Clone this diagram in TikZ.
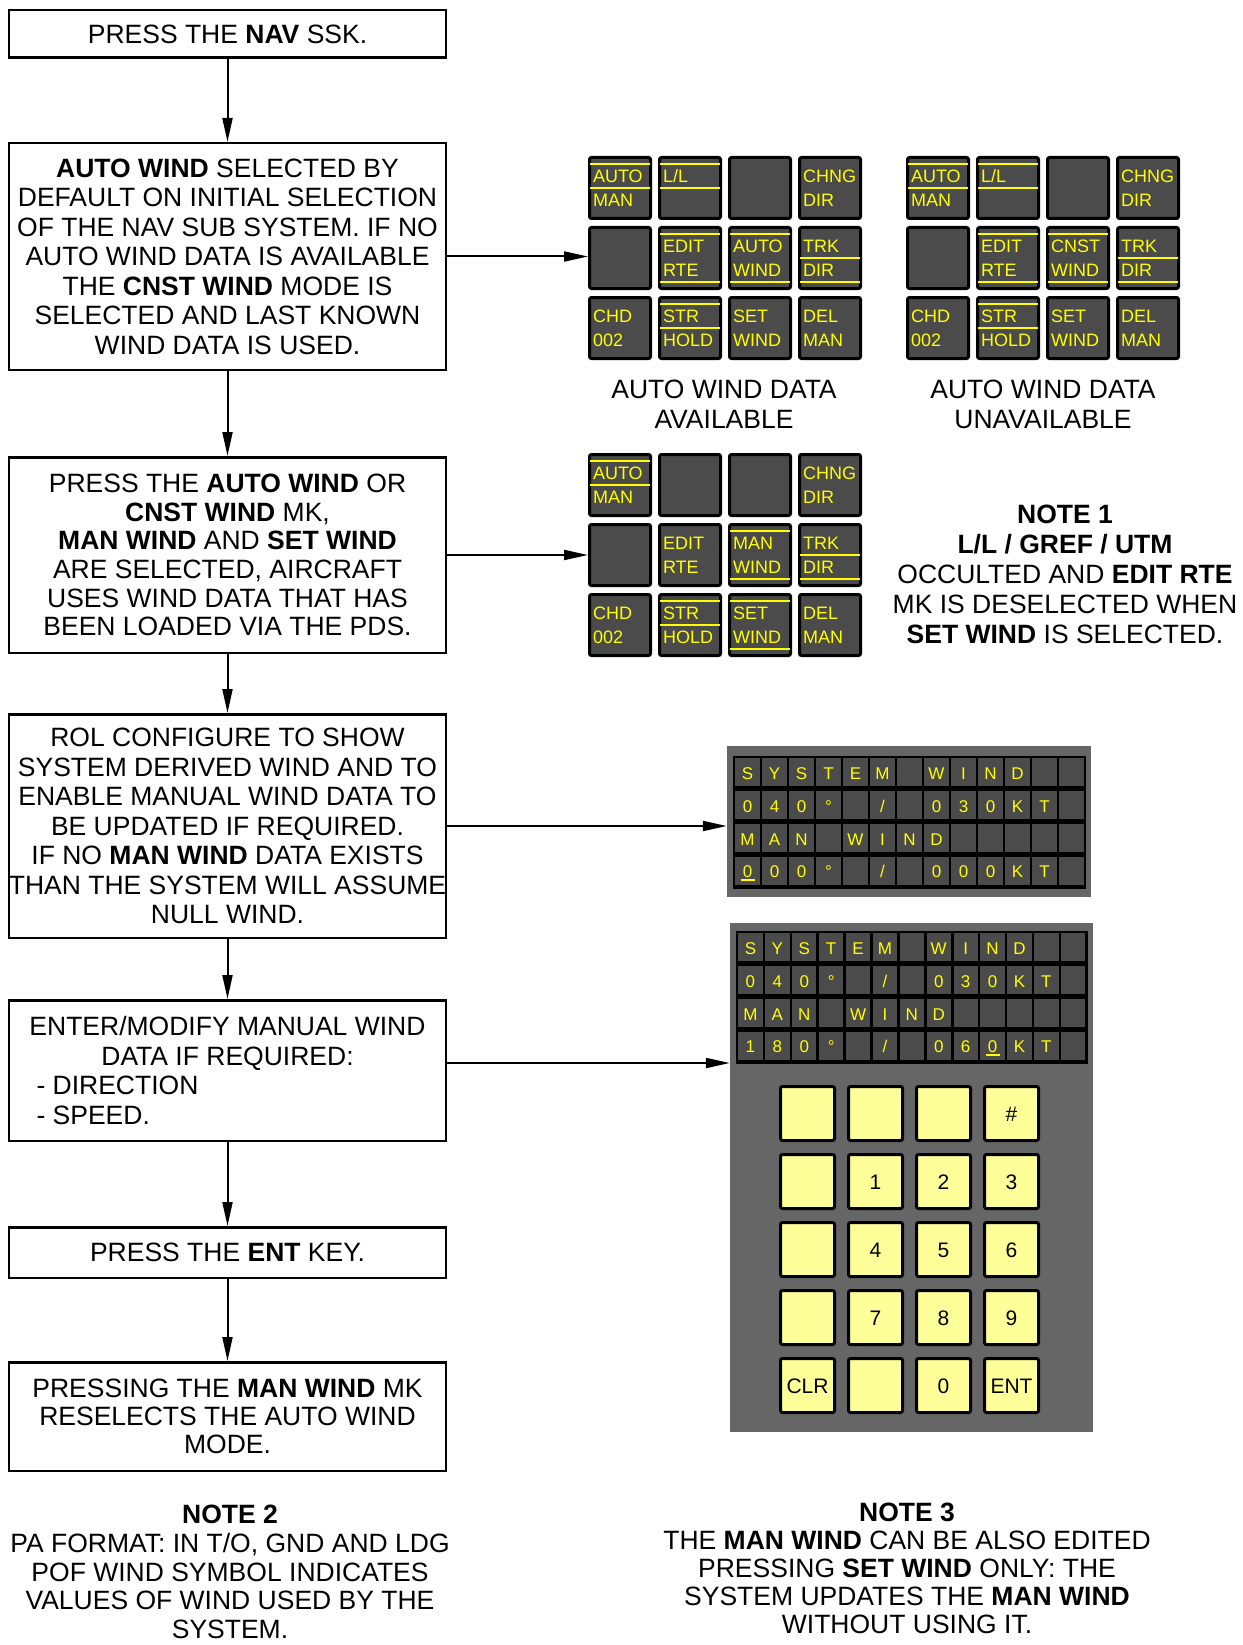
\documentclass[tikz,border=0pt]{standalone}
\usepackage{fontspec}
\setmainfont{Liberation Sans}
\usetikzlibrary{arrows.meta}

\definecolor{keygray}{HTML}{4B4B4B}
\definecolor{panelgray}{HTML}{666666}
\definecolor{mkyellow}{HTML}{FFFF00}
\definecolor{padyellow}{HTML}{FFFF99}

% one 4x3 block of MFD soft keys, labels given row by row
\newcommand{\mfdpanel}[3]{%
  \begin{scope}[shift={#2}]
    \foreach \keyrow [count=\ky from 0] in {#3}
      \foreach \keytxt [count=\kx from 0] in \keyrow
        \node[mfdkey] (#1-\ky-\kx) at ({70*\kx},{70*\ky}) {\keytxt};
  \end{scope}}

\begin{document}
\begin{tikzpicture}[
    x=1pt, y=-1pt,
    font=\fontsize{26.5}{29.5}\selectfont,
    box/.style={draw, line width=2.5pt, minimum width=437pt, inner sep=0pt, align=center},
    arr/.style={-{Triangle[length=24pt,width=10pt]}, line width=2pt},
    mfdkey/.style={draw, line width=3pt, rounded corners=2pt, fill=keygray, minimum width=61pt, minimum height=61pt,
                   text width=54pt, inner xsep=3.5pt, inner ysep=0pt, align=left, text=mkyellow,
                   font=\fontsize{18}{24}\selectfont},
    mkbar/.style={draw=mkyellow, line width=2.7pt},
    lcdchar/.style={text=mkyellow, font=\fontsize{17}{17}\selectfont, text height=12.5pt, text depth=0pt, inner sep=0pt},
    padkey/.style={draw, line width=3pt, rounded corners=2pt, fill=padyellow, minimum size=54pt, inner sep=0pt,
                   font=\fontsize{21}{21}\selectfont, text height=15pt, text depth=0pt},
]
\useasboundingbox (0,0) rectangle (1242,1645);

% flow of steps
\node[box, minimum height=47.5pt] (navbox) at (227.5,34) {PRESS THE \textbf{NAV} SSK.};
\node[box, minimum height=226.5pt] (autobox) at (227.5,256.5) {\textbf{AUTO WIND} SELECTED BY\\DEFAULT ON INITIAL SELECTION\\OF THE NAV SUB SYSTEM. IF NO\\AUTO WIND DATA IS AVAILABLE\\THE \textbf{CNST WIND} MODE IS\\SELECTED AND LAST KNOWN\\WIND DATA IS USED.};
\node[box, minimum height=195.5pt, font=\fontsize{26.5}{28.7}\selectfont] (pressbox) at (227.5,555) {PRESS THE \textbf{AUTO WIND} OR\\\textbf{CNST WIND} MK,\\\textbf{MAN WIND} AND \textbf{SET WIND}\\ARE SELECTED, AIRCRAFT\\USES WIND DATA THAT HAS\\BEEN LOADED VIA THE PDS.};
\node[box, minimum height=223.5pt] (rolbox) at (227.5,826) {ROL CONFIGURE TO SHOW\\SYSTEM DERIVED WIND AND TO\\ENABLE MANUAL WIND DATA TO\\BE UPDATED IF REQUIRED.\\IF NO \textbf{MAN WIND} DATA EXISTS\\THAN THE SYSTEM WILL ASSUME\\NULL WIND.};
\node[box, minimum height=140.5pt] (enterbox) at (227.5,1070.5) {\makebox[420pt]{ENTER/MODIFY MANUAL WIND}\\\makebox[420pt]{DATA IF REQUIRED:}\\\makebox[420pt][l]{\hspace{19pt}- DIRECTION}\\\makebox[420pt][l]{\hspace{19pt}- SPEED.}};
\node[box, minimum height=50.5pt] (entbox) at (227.5,1252.5) {PRESS THE \textbf{ENT} KEY.};
\node[box, minimum height=108.5pt, font=\fontsize{26.5}{28}\selectfont] (manbox) at (227.5,1416.5) {PRESSING THE \textbf{MAN WIND} MK\\RESELECTS THE AUTO WIND\\MODE.};

% MFD soft keys
\mfdpanel{avl}{(620,188)}{{{AUTO\\MAN},{L/L\\~},{},{CHNG\\DIR}},{{},{EDIT\\RTE},{AUTO\\WIND},{TRK\\DIR}},{{CHD\\002},{STR\\HOLD},{SET\\WIND},{DEL\\MAN}}}
\mfdpanel{unavl}{(938,188)}{{{AUTO\\MAN},{L/L\\~},{},{CHNG\\DIR}},{{},{EDIT\\RTE},{CNST\\WIND},{TRK\\DIR}},{{CHD\\002},{STR\\HOLD},{SET\\WIND},{DEL\\MAN}}}
\mfdpanel{sel}{(620,485)}{{{AUTO\\MAN},{},{},{CHNG\\DIR}},{{},{EDIT\\RTE},{MAN\\WIND},{TRK\\DIR}},{{CHD\\002},{STR\\HOLD},{SET\\WIND},{DEL\\MAN}}}

% selection bars (24 = top, 0 = middle, -24 = bottom)
\foreach \k/\off in {avl-0-0/24, avl-0-0/0, avl-0-1/24, avl-0-1/0, avl-1-1/24, avl-1-1/-24, avl-1-2/24, avl-1-2/-24,
                     avl-1-3/0, avl-1-3/-24, avl-2-1/24, avl-2-1/0,
                     unavl-0-0/24, unavl-0-0/0, unavl-0-1/24, unavl-0-1/0, unavl-1-1/24, unavl-1-1/-24, unavl-1-2/24, unavl-1-2/-24,
                     unavl-1-3/0, unavl-1-3/-24, unavl-2-1/24, unavl-2-1/0,
                     sel-0-0/24, sel-0-0/0, sel-1-2/24, sel-1-2/-24, sel-1-3/0, sel-1-3/-24,
                     sel-2-1/24, sel-2-1/0, sel-2-2/24, sel-2-2/-24}
  \draw[mkbar] ([xshift=2pt,yshift=\off pt]\k.west) -- ([xshift=-2pt,yshift=\off pt]\k.east);

\node[align=center, font=\fontsize{26.5}{30}\selectfont] (capavl) at (724,404) {AUTO WIND DATA\\AVAILABLE};
\node[align=center, font=\fontsize{26.5}{30}\selectfont] (capunavl) at (1043,404) {AUTO WIND DATA\\UNAVAILABLE};
\node[align=center, font=\fontsize{26.5}{30}\selectfont] (note1) at (1065,574) {\textbf{NOTE 1}\\\textbf{L/L / GREF / UTM}\\OCCULTED AND \textbf{EDIT RTE}\\MK IS DESELECTED WHEN\\\textbf{SET WIND} IS SELECTED.};

% ROL display, system wind only
\node[fill=panelgray, minimum width=364pt, minimum height=151pt, inner sep=0pt] (lcdA) at (909,821.5) {};
\fill (733,756) rectangle (1086,889);
\foreach \ry in {0,...,3}
  \foreach \cx in {0,...,12}
    \fill[keygray] ({735.3+27*\cx},{758.3+32.75*\ry}) rectangle ++(24.4,28.15);
\foreach \lcdrow [count=\ry from 0] in {{S,Y,S,T,E,M,{},W,I,N,D,{},{}},{0,4,0,°,{},/,{},0,3,0,K,T,{}},{M,A,N,{},W,I,N,D,{},{},{},{},{}},{0,0,0,°,{},/,{},0,0,0,K,T,{}}}
  \foreach \ch [count=\cx from 0] in \lcdrow
    \node[lcdchar] (lcdA-\ry-\cx) at ({747.5+27*\cx},{773.4+32.75*\ry}) {\ch};
\draw[mkbar, line width=2pt] ([xshift=-7pt,yshift=-8.5pt]lcdA-3-0.center) -- ([xshift=7pt,yshift=-8.5pt]lcdA-3-0.center);

% ROL display with keypad
\node[fill=panelgray, minimum width=363pt, minimum height=509pt, inner sep=0pt] (lcdB) at (911.5,1177.5) {};
\fill (736,931) rectangle (1088,1064);
\foreach \ry in {0,...,3}
  \foreach \cx in {0,...,12}
    \fill[keygray] ({738.3+26.9*\cx},{933.3+32.75*\ry}) rectangle ++(24.3,28.15);
\foreach \lcdrow [count=\ry from 0] in {{S,Y,S,T,E,M,{},W,I,N,D,{},{}},{0,4,0,°,{},/,{},0,3,0,K,T,{}},{M,A,N,{},W,I,N,D,{},{},{},{},{}},{1,8,0,°,{},/,{},0,6,0,K,T,{}}}
  \foreach \ch [count=\cx from 0] in \lcdrow
    \node[lcdchar] (lcdB-\ry-\cx) at ({750.45+26.9*\cx},{948.4+32.75*\ry}) {\ch};
\draw[mkbar, line width=2pt] ([xshift=-7pt,yshift=-8.5pt]lcdB-3-9.center) -- ([xshift=7pt,yshift=-8.5pt]lcdB-3-9.center);

\foreach \padrow [count=\ky from 0] in {{{},{},{},\#},{{},1,2,3},{{},4,5,6},{{},7,8,9},{CLR,{},0,ENT}}
  \foreach \padtxt [count=\kx from 0] in \padrow
    \node[padkey] (pad-\ky-\kx) at ({807.5+68*\kx},{1113.5+68*\ky}) {\padtxt};

\node[align=center, font=\fontsize{26.5}{28.6}\selectfont] (note2) at (230,1572) {\textbf{NOTE 2}\\PA FORMAT: IN T/O, GND AND LDG\\POF WIND SYMBOL INDICATES\\VALUES OF WIND USED BY THE\\SYSTEM.};
\node[align=center, font=\fontsize{26.5}{28}\selectfont] (note3) at (907,1568) {\textbf{NOTE 3}\\THE \textbf{MAN WIND} CAN BE ALSO EDITED\\PRESSING \textbf{SET WIND} ONLY: THE\\SYSTEM UPDATES THE \textbf{MAN WIND}\\WITHOUT USING IT.};

% connectors
\draw[arr] (navbox) -- (autobox);
\draw[arr] (autobox) -- (pressbox);
\draw[arr] (pressbox) -- (rolbox);
\draw[arr] (rolbox) -- (enterbox);
\draw[arr] (enterbox) -- (entbox);
\draw[arr] (entbox) -- (manbox);
\draw[arr] (autobox.east) -- (autobox.east -| avl-1-0.west);
\draw[arr] (pressbox.east) -- (pressbox.east -| sel-1-0.west);
\draw[arr] (rolbox.east) -- (rolbox.east -| lcdA.west);
\coordinate (enterout) at ([yshift=7.5pt]enterbox.east);
\draw[arr] (enterout) -- (enterout -| lcdB.west);

\end{tikzpicture}
\end{document}
